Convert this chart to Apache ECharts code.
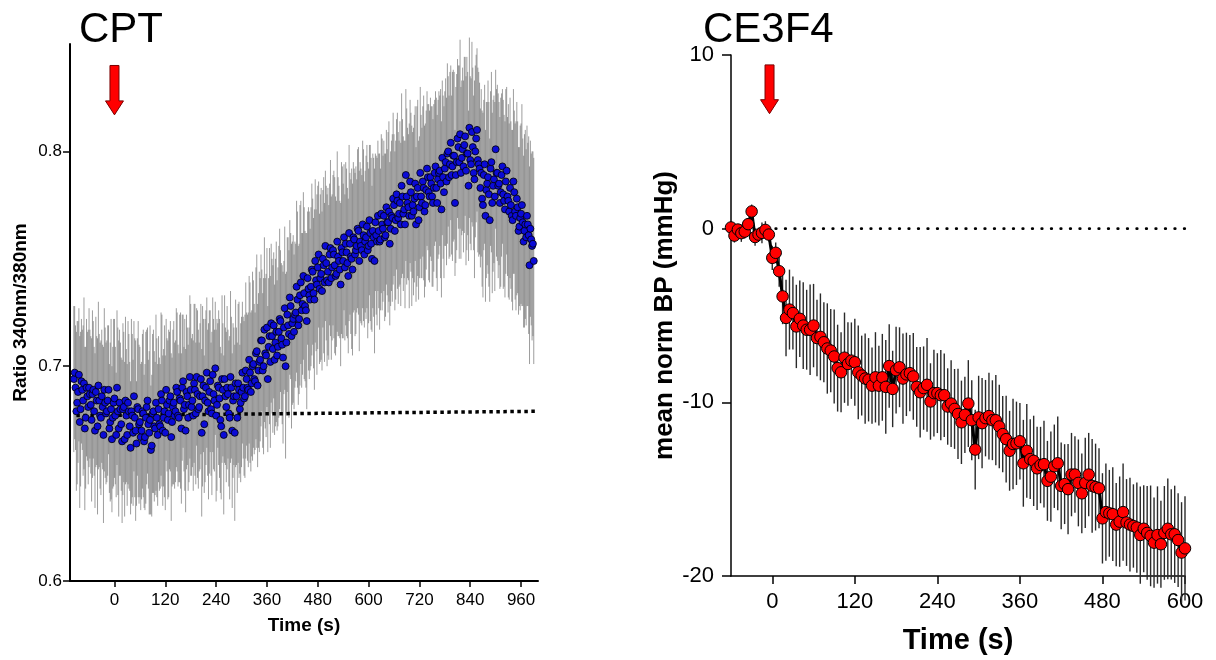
<!DOCTYPE html>
<html><head><meta charset="utf-8">
<script src="https://cdn.jsdelivr.net/npm/echarts@6/dist/echarts.min.js"></script>
<style>html,body{margin:0;padding:0;background:#fff}#c{width:1216px;height:660px}</style>
</head><body><div id="c"></div>
<script>
// ---------- Left panel: CPT (two interleaved sample sets, 4 s apart each) ----------
const cptStartA = -96, cptStartB = -94, cptStep = 4; // sampling times (s)
const cptRatioA = [
0.694,0.690,0.683,0.696,0.680,0.689,0.692,0.676,0.686,0.690,
0.682,0.687,0.679,0.688,0.672,0.684,0.676,0.681,0.689,0.678,
0.684,0.671,0.680,0.676,0.685,0.668,0.679,0.683,0.673,0.680,
0.666,0.677,0.683,0.672,0.679,0.669,0.676,0.664,0.680,0.674,
0.670,0.678,0.667,0.681,0.673,0.675,0.663,0.679,0.671,0.676,
0.680,0.672,0.684,0.676,0.669,0.682,0.678,0.686,0.674,0.683,
0.679,0.688,0.676,0.684,0.690,0.680,0.670,0.686,0.682,0.689,
0.684,0.692,0.678,0.687,0.681,0.694,0.686,0.673,0.690,0.683,
0.688,0.680,0.696,0.684,0.677,0.691,0.685,0.672,0.689,0.694,
0.681,0.687,0.676,0.690,0.684,0.669,0.686,0.692,0.680,0.688,
0.690,0.686,0.694,0.689,0.697,0.692,0.701,0.693,0.707,0.698,
0.703,0.712,0.700,0.706,0.718,0.709,0.702,0.714,0.719,0.711,
0.705,0.716,0.721,0.710,0.718,0.700,0.724,0.715,0.728,0.720,
0.716,0.725,0.731,0.722,0.739,0.729,0.734,0.726,0.741,0.733,
0.737,0.744,0.731,0.740,0.746,0.736,0.743,0.750,0.739,0.748,
0.744,0.752,0.741,0.754,0.747,0.743,0.751,0.745,0.755,0.749,
0.746,0.753,0.742,0.757,0.750,0.760,0.752,0.756,0.763,0.758,
0.754,0.761,0.758,0.765,0.756,0.762,0.750,0.760,0.767,0.758,
0.763,0.759,0.766,0.770,0.761,0.767,0.772,0.764,0.769,0.775,
0.768,0.777,0.771,0.766,0.779,0.773,0.789,0.776,0.770,0.781,
0.775,0.778,0.766,0.783,0.774,0.779,0.786,0.772,0.782,0.788,
0.779,0.785,0.776,0.790,0.783,0.787,0.791,0.773,0.788,0.792,
0.786,0.800,0.794,0.789,0.798,0.776,0.795,0.802,0.808,0.797,
0.793,0.807,0.799,0.784,0.796,0.809,0.790,0.800,0.810,0.794,
0.783,0.778,0.789,0.770,0.785,0.780,0.792,0.776,0.787,0.801,
0.790,0.785,0.781,0.793,0.777,0.786,0.779,0.772,0.775,0.768,
0.781,0.770,0.774,0.765,0.771,0.767,0.763,0.760,0.766,0.747,
0.759,0.757];
const cptErrA = [
0.034,0.029,0.038,0.031,0.036,0.028,0.040,0.033,0.030,0.037,
0.032,0.039,0.030,0.035,0.041,0.031,0.036,0.029,0.038,0.033,
0.035,0.030,0.042,0.033,0.037,0.029,0.039,0.034,0.031,0.040,
0.036,0.031,0.038,0.030,0.043,0.034,0.037,0.029,0.041,0.035,
0.032,0.039,0.034,0.036,0.030,0.044,0.033,0.038,0.031,0.037,
0.034,0.029,0.040,0.032,0.036,0.031,0.039,0.035,0.030,0.038,
0.033,0.037,0.030,0.041,0.034,0.029,0.038,0.032,0.036,0.040,
0.031,0.037,0.033,0.039,0.030,0.035,0.042,0.032,0.036,0.034,
0.038,0.031,0.036,0.033,0.040,0.029,0.037,0.034,0.031,0.039,
0.035,0.030,0.038,0.033,0.036,0.041,0.032,0.037,0.030,0.035,
0.033,0.038,0.031,0.036,0.042,0.034,0.039,0.032,0.045,0.036,
0.038,0.033,0.041,0.035,0.037,0.032,0.040,0.036,0.034,0.039,
0.035,0.040,0.033,0.037,0.031,0.043,0.036,0.039,0.034,0.038,
0.036,0.032,0.041,0.035,0.038,0.033,0.040,0.036,0.031,0.039,
0.037,0.034,0.042,0.033,0.038,0.035,0.040,0.032,0.037,0.036,
0.039,0.033,0.038,0.035,0.041,0.034,0.037,0.032,0.040,0.036,
0.034,0.039,0.036,0.033,0.042,0.035,0.038,0.031,0.039,0.037,
0.035,0.040,0.033,0.038,0.036,0.041,0.034,0.037,0.032,0.039,
0.036,0.033,0.040,0.035,0.038,0.034,0.042,0.036,0.039,0.033,
0.037,0.041,0.034,0.038,0.036,0.032,0.040,0.035,0.043,0.037,
0.034,0.039,0.036,0.041,0.033,0.038,0.035,0.040,0.037,0.034,
0.040,0.036,0.039,0.034,0.042,0.037,0.035,0.041,0.038,0.036,
0.039,0.035,0.043,0.037,0.040,0.034,0.041,0.038,0.044,0.036,
0.040,0.037,0.045,0.035,0.039,0.042,0.036,0.040,0.038,0.043,
0.037,0.041,0.035,0.040,0.038,0.043,0.036,0.042,0.039,0.037,
0.041,0.038,0.044,0.036,0.040,0.043,0.037,0.041,0.039,0.042,
0.038,0.044,0.040,0.037,0.042,0.039,0.045,0.041,0.038,0.046,
0.040,0.043];
const cptRatioB = [
0.697,0.679,0.688,0.674,0.693,0.684,0.671,0.690,0.681,0.687,
0.675,0.689,0.670,0.684,0.691,0.677,0.686,0.668,0.683,0.679,
0.689,0.674,0.666,0.683,0.677,0.690,0.671,0.680,0.665,0.681,
0.684,0.668,0.679,0.662,0.677,0.686,0.670,0.681,0.673,0.667,
0.679,0.665,0.676,0.684,0.669,0.661,0.678,0.672,0.683,0.668,
0.673,0.687,0.670,0.679,0.689,0.675,0.684,0.667,0.681,0.677,
0.690,0.677,0.685,0.671,0.693,0.682,0.688,0.676,0.695,0.681,
0.677,0.689,0.695,0.680,0.686,0.669,0.691,0.684,0.697,0.679,
0.693,0.678,0.687,0.699,0.682,0.690,0.675,0.694,0.668,0.686,
0.690,0.678,0.695,0.670,0.686,0.692,0.676,0.689,0.683,0.697,
0.685,0.698,0.690,0.703,0.688,0.700,0.694,0.706,0.691,0.702,
0.712,0.698,0.717,0.705,0.694,0.714,0.720,0.708,0.703,0.716,
0.709,0.722,0.713,0.704,0.727,0.711,0.719,0.732,0.714,0.722,
0.724,0.737,0.719,0.733,0.726,0.742,0.728,0.721,0.736,0.731,
0.745,0.734,0.749,0.738,0.752,0.741,0.735,0.747,0.756,0.740,
0.739,0.755,0.746,0.752,0.742,0.758,0.749,0.738,0.753,0.760,
0.757,0.748,0.762,0.751,0.745,0.759,0.754,0.764,0.749,0.756,
0.766,0.752,0.760,0.754,0.768,0.757,0.763,0.749,0.761,0.770,
0.758,0.771,0.764,0.760,0.774,0.767,0.757,0.770,0.778,0.763,
0.780,0.769,0.776,0.784,0.771,0.766,0.779,0.774,0.786,0.770,
0.772,0.785,0.779,0.768,0.790,0.776,0.783,0.775,0.792,0.781,
0.788,0.779,0.783,0.793,0.776,0.790,0.785,0.797,0.781,0.795,
0.799,0.788,0.804,0.793,0.798,0.789,0.806,0.795,0.790,0.801,
0.803,0.791,0.799,0.811,0.794,0.802,0.787,0.806,0.796,0.792,
0.790,0.775,0.794,0.782,0.788,0.768,0.795,0.784,0.779,0.790,
0.784,0.776,0.789,0.780,0.773,0.791,0.777,0.783,0.770,0.786,
0.772,0.778,0.763,0.769,0.775,0.758,0.766,0.770,0.761,0.764,
0.756,0.749];
const cptErrB = [
0.031,0.037,0.033,0.040,0.029,0.035,0.038,0.032,0.036,0.030,
0.038,0.032,0.036,0.030,0.039,0.034,0.031,0.041,0.035,0.033,
0.030,0.037,0.034,0.039,0.032,0.036,0.041,0.031,0.038,0.035,
0.039,0.033,0.036,0.031,0.038,0.035,0.042,0.032,0.037,0.034,
0.036,0.031,0.040,0.034,0.038,0.030,0.037,0.035,0.041,0.033,
0.031,0.038,0.035,0.040,0.033,0.037,0.032,0.039,0.036,0.034,
0.037,0.033,0.039,0.035,0.031,0.040,0.036,0.034,0.038,0.032,
0.035,0.040,0.032,0.037,0.034,0.039,0.031,0.038,0.035,0.041,
0.033,0.038,0.035,0.031,0.040,0.036,0.034,0.039,0.037,0.032,
0.038,0.034,0.040,0.036,0.032,0.039,0.035,0.041,0.037,0.033,
0.036,0.041,0.034,0.039,0.037,0.044,0.035,0.040,0.038,0.042,
0.040,0.036,0.043,0.038,0.034,0.041,0.037,0.039,0.035,0.042,
0.037,0.042,0.035,0.040,0.038,0.033,0.041,0.036,0.043,0.039,
0.034,0.040,0.037,0.042,0.036,0.039,0.035,0.041,0.038,0.033,
0.040,0.035,0.038,0.042,0.034,0.039,0.037,0.041,0.035,0.040,
0.036,0.041,0.034,0.039,0.037,0.042,0.035,0.038,0.040,0.034,
0.038,0.035,0.041,0.036,0.040,0.033,0.039,0.037,0.042,0.036,
0.039,0.034,0.038,0.041,0.035,0.040,0.036,0.043,0.037,0.035,
0.041,0.037,0.034,0.039,0.036,0.042,0.038,0.035,0.040,0.037,
0.035,0.040,0.038,0.043,0.036,0.039,0.041,0.034,0.038,0.042,
0.039,0.036,0.042,0.037,0.040,0.035,0.043,0.038,0.036,0.041,
0.037,0.042,0.039,0.035,0.041,0.038,0.044,0.036,0.040,0.039,
0.042,0.038,0.036,0.044,0.039,0.041,0.037,0.045,0.040,0.038,
0.041,0.044,0.038,0.042,0.040,0.037,0.046,0.039,0.043,0.040,
0.039,0.043,0.037,0.041,0.045,0.038,0.042,0.040,0.044,0.039,
0.043,0.040,0.038,0.044,0.041,0.039,0.045,0.042,0.040,0.043,
0.041,0.045,0.039,0.043,0.047,0.040,0.044,0.042,0.046,0.041,
0.044,0.048];
const cptBaseline = [[-90, 0.677], [1000, 0.679]];
const cptArrow = [[0, 0.840, 0.817]];
const cptTicksX = [0, 120, 240, 360, 480, 600, 720, 840, 960];
const cptTicksY = [0.6, 0.7, 0.8];

// ---------- Right panel: CE3F4 ----------
const bpStart = -60, bpStep = 5; // sampling times (s)
const bpMean = [
0.07,-0.4,-0.05,-0.26,-0.17,0.26,0.99,-0.48,-0.34,-0.24,
-0.07,-0.34,-1.68,-1.39,-2.45,-3.9,-5.14,-4.66,-4.86,-5.63,
-5.19,-5.58,-5.82,-5.82,-5.58,-6.3,-6.23,-6.54,-6.9,-7.02,
-7.36,-8.03,-8.27,-7.43,-7.79,-7.6,-7.69,-8.27,-8.46,-8.63,
-8.7,-9.04,-8.56,-9.04,-8.56,-9.11,-7.91,-9.23,-8.15,-7.98,
-8.63,-8.39,-8.32,-8.51,-9.11,-9.42,-9.18,-8.99,-9.95,-9.47,
-9.47,-9.59,-9.59,-10.24,-10.07,-10.38,-10.67,-11.15,-10.72,-10.07,
-11.03,-12.72,-10.87,-11.2,-10.91,-10.79,-11.03,-11.03,-11.39,-11.83,
-12.12,-12.79,-12.4,-12.36,-12.24,-13.51,-12.79,-13.27,-13.37,-13.8,
-13.61,-13.56,-14.52,-14.28,-13.68,-13.51,-14.81,-14.71,-15.0,-14.16,
-14.16,-14.64,-15.24,-14.64,-14.16,-14.81,-14.88,-14.95,-16.68,-16.32,
-16.39,-16.44,-17.04,-16.87,-16.32,-16.92,-17.04,-17.12,-17.21,-17.64,
-17.28,-17.52,-17.69,-18.08,-17.64,-18.17,-17.52,-17.28,-17.6,-17.6,
-17.93,-18.65,-18.41];
const bpErr = [
0.3,0.4,0.3,0.5,0.4,0.3,0.4,0.5,0.4,0.6,
0.5,0.4,0.7,0.6,0.9,1.6,2.2,2.3,2.1,2.4,
2.2,2.5,2.3,2.6,2.4,2.2,2.5,2.3,2.6,2.4,
2.7,2.5,2.3,2.6,2.4,2.2,2.5,2.7,2.3,2.6,
2.4,2.2,2.6,2.3,2.5,2.7,2.4,2.2,2.5,2.3,
2.6,2.4,2.2,2.5,2.3,2.6,2.4,2.7,2.2,2.5,
2.3,2.6,2.4,2.2,2.5,2.3,2.6,2.4,2.2,2.5,
2.3,2.3,2.4,2.6,2.2,2.5,2.3,2.6,2.4,2.2,
2.5,2.3,2.6,2.4,2.2,2.5,2.7,2.3,2.6,2.4,
2.2,2.5,2.3,2.6,2.4,2.7,2.5,2.3,2.6,2.4,
2.2,2.5,2.3,2.6,2.4,2.7,2.5,2.3,2.6,2.8,
2.5,2.7,2.4,2.6,2.8,2.5,2.7,2.4,2.6,2.8,
2.5,2.7,2.9,2.6,2.8,2.5,2.7,2.9,2.6,2.8,
2.7,2.9,3.0];
const bpBaseline = [[5, 0], [600, 0]];
const bpArrow = [[-4, 9.43, 6.62]];
const bpTicksX = [0, 120, 240, 360, 480, 600];

// ---------- build ----------
const FONT = "'Liberation Sans', Arial, sans-serif";
const cptPts = [], cptBars = [];
cptRatioA.forEach((v, i) => { const t = cptStartA + i * cptStep; cptPts.push([t, v]); cptBars.push([t, v - cptErrA[i], v + cptErrA[i]]); });
cptRatioB.forEach((v, i) => { const t = cptStartB + i * cptStep; cptPts.push([t, v]); cptBars.push([t, v - cptErrB[i], v + cptErrB[i]]); });
cptPts.sort((a, b) => a[0] - b[0]);
cptBars.sort((a, b) => a[0] - b[0]);
const bpPts = bpMean.map((v, i) => [bpStart + i * bpStep, v]);
const bpBars = bpMean.map((v, i) => [bpStart + i * bpStep, v - bpErr[i], v + bpErr[i]]);

function errBar(color, width) {
  return function (params, api) {
    const lo = api.coord([api.value(0), api.value(1)]);
    const hi = api.coord([api.value(0), api.value(2)]);
    return { type: 'line', shape: { x1: lo[0], y1: lo[1], x2: hi[0], y2: hi[1] },
      style: { stroke: color, lineWidth: width } };
  };
}
function arrow(params, api) {
  const top = api.coord([api.value(0), api.value(1)]);
  const tip = api.coord([api.value(0), api.value(2)]);
  const cx = top[0], sw = 4.5, hw = 9, hh = 14;
  return { type: 'polygon',
    shape: { points: [[cx - sw, top[1]], [cx + sw, top[1]], [cx + sw, tip[1] - hh], [cx + hw, tip[1] - hh],
      [cx, tip[1]], [cx - hw, tip[1] - hh], [cx - sw, tip[1] - hh]] },
    style: { fill: '#ff0000', stroke: '#7a0000', lineWidth: 1 } };
}

const chart = echarts.init(document.getElementById('c'), null, { renderer: 'canvas' });
chart.setOption({
  animation: false,
  textStyle: { fontFamily: FONT },
  title: [
    { text: 'CPT', left: 74, top: 4, textStyle: { fontSize: 42, fontWeight: 'normal', color: '#000', fontFamily: FONT } },
    { text: 'CE3F4', left: 698, top: 4, textStyle: { fontSize: 42, fontWeight: 'normal', color: '#000', fontFamily: FONT } }
  ],
  grid: [
    { left: 70, top: 44, width: 468, height: 537 },
    { left: 731, top: 55, width: 454, height: 524 }
  ],
  xAxis: [
    { gridIndex: 0, type: 'value', min: -105, max: 1000,
      name: 'Time (s)', nameLocation: 'middle', nameGap: 35,
      nameTextStyle: { fontSize: 19, fontWeight: 'bold', color: '#000', fontFamily: FONT },
      axisLine: { onZero: false, lineStyle: { color: '#000', width: 2 } },
      axisTick: { length: 6, lineStyle: { color: '#000', width: 1.5 }, customValues: cptTicksX },
      axisLabel: { customValues: cptTicksX, fontSize: 17, color: '#000', margin: 11, fontFamily: FONT },
      splitLine: { show: false } },
    { gridIndex: 1, type: 'value', min: -60, max: 600,
      name: 'Time (s)', nameLocation: 'middle', nameGap: 50,
      nameTextStyle: { fontSize: 29, fontWeight: 'bold', color: '#000', fontFamily: FONT },
      axisLine: { onZero: false, lineStyle: { color: '#000', width: 1.5 } },
      axisTick: { length: 8, lineStyle: { color: '#000', width: 1.5 }, customValues: bpTicksX },
      axisLabel: { customValues: bpTicksX, fontSize: 22, color: '#000', margin: 15, fontFamily: FONT },
      splitLine: { show: false } }
  ],
  yAxis: [
    { gridIndex: 0, type: 'value', min: 0.6, max: 0.85,
      name: 'Ratio 340nm/380nm', nameLocation: 'middle', nameGap: 40,
      nameTextStyle: { fontSize: 19, fontWeight: 'bold', color: '#000', fontFamily: FONT },
      axisLine: { show: true, onZero: false, lineStyle: { color: '#000', width: 2 } },
      axisTick: { show: true, length: 7, lineStyle: { color: '#000', width: 1.5 }, customValues: cptTicksY },
      axisLabel: { customValues: cptTicksY, fontSize: 17, color: '#000', margin: 8, fontFamily: FONT },
      splitLine: { show: false } },
    { gridIndex: 1, type: 'value', min: -20, max: 10, interval: 10,
      name: 'mean norm BP (mmHg)', nameLocation: 'middle', nameGap: 52,
      nameTextStyle: { fontSize: 26, fontWeight: 'bold', color: '#000', fontFamily: FONT },
      axisLine: { show: true, onZero: false, lineStyle: { color: '#000', width: 1.5 } },
      axisTick: { show: true, length: 9, lineStyle: { color: '#000', width: 1.5 } },
      axisLabel: { fontSize: 22, color: '#000', margin: 17, fontFamily: FONT },
      splitLine: { show: false } }
  ],
  series: [
    { type: 'custom', xAxisIndex: 0, yAxisIndex: 0, data: cptBars, renderItem: errBar('rgba(105,105,105,0.65)', 1), z: 1, silent: true },
    { type: 'line', xAxisIndex: 0, yAxisIndex: 0, data: cptBaseline, symbol: 'none',
      lineStyle: { color: '#000', width: 3.5, type: [3.5, 3.5] }, z: 2 },
    { type: 'scatter', xAxisIndex: 0, yAxisIndex: 0, data: cptPts, symbol: 'circle', symbolSize: 7,
      itemStyle: { color: '#0b0bd6', borderColor: '#000', borderWidth: 0.8, opacity: 1 }, z: 3 },
    { type: 'custom', xAxisIndex: 0, yAxisIndex: 0, data: cptArrow, renderItem: arrow, z: 5 },

    { type: 'custom', xAxisIndex: 1, yAxisIndex: 1, data: bpBars, renderItem: errBar('#2a2a2a', 1.4), z: 1, silent: true },
    { type: 'line', xAxisIndex: 1, yAxisIndex: 1, data: bpBaseline, symbol: 'none',
      lineStyle: { color: '#000', width: 2.8, type: [0.5, 9], cap: 'round' }, z: 2 },
    { type: 'line', xAxisIndex: 1, yAxisIndex: 1, data: bpPts, symbol: 'circle', symbolSize: 11.5,
      lineStyle: { color: '#000', width: 3 },
      itemStyle: { color: '#ff0000', borderColor: '#000', borderWidth: 1 }, z: 3 },
    { type: 'custom', xAxisIndex: 1, yAxisIndex: 1, data: bpArrow, renderItem: arrow, z: 5 }
  ]
});
</script></body></html>
